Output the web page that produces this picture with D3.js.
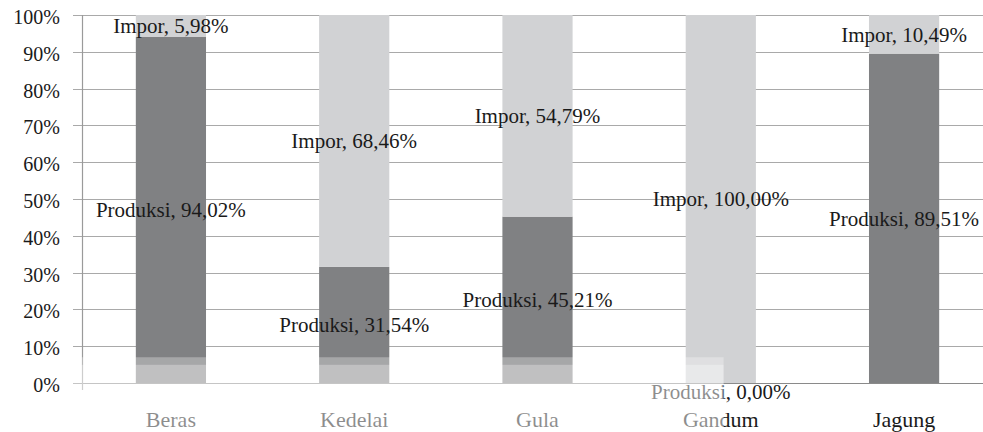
<!DOCTYPE html>
<html>
<head>
<meta charset="utf-8">
<script src="https://cdn.jsdelivr.net/npm/d3@7"></script>
<style>
  html, body { margin: 0; padding: 0; background: #fff; }
  svg { display: block; }
  text { font-family: "Liberation Serif", "Times New Roman", serif; }
</style>
</head>
<body>
<svg id="chart" width="983" height="432"></svg>
<script>
const categories = ["Beras", "Kedelai", "Gula", "Gandum", "Jagung"];
const produksi = [94.02, 31.54, 45.21, 0.00, 89.51];
const impor = [5.98, 68.46, 54.79, 100.00, 10.49];
const yTicks = [0, 10, 20, 30, 40, 50, 60, 70, 80, 90, 100];
const seriesNames = ["Produksi", "Impor"];

const W = 983, H = 432;
const margin = { top: 15, left: 82, bottom: 49 };
const plotRight = 996;
const svg = d3.select("#chart");

const x = d3.scaleBand().domain(categories).range([79, plotRight]).paddingInner(0.617).paddingOuter(0.31);
const y = d3.scaleLinear().domain([0, 100]).range([H - margin.bottom, margin.top]);

const colors = { Produksi: "#808183", Impor: "#d1d2d4" };
const fmt = v => v.toFixed(2).replace(".", ",") + "%";

// gridlines
svg.append("g").selectAll("line").data(yTicks).join("line")
  .attr("x1", 73).attr("x2", W)
  .attr("y1", d => Math.round(y(d)) + 0.5).attr("y2", d => Math.round(y(d)) + 0.5)
  .attr("stroke", d => d === 0 ? "#8a8a8a" : "#a9a9a9").attr("stroke-width", 1.2);

// y axis line
svg.append("line").attr("x1", 82.5).attr("x2", 82.5)
  .attr("y1", y(100)).attr("y2", y(0) + 7)
  .attr("stroke", "#9a9a9a").attr("stroke-width", 1.2);

// tick labels
svg.append("g").selectAll("text").data(yTicks).join("text")
  .attr("x", 60).attr("y", d => y(d)).attr("dy", "0.45em")
  .attr("text-anchor", "end").attr("font-size", 20).attr("fill", "#1a1a1a")
  .text(d => d + "%");

// stacked data
const rows = categories.map((c, i) => ({ cat: c, Produksi: produksi[i], Impor: impor[i] }));
const stack = d3.stack().keys(seriesNames)(rows);

svg.append("g").selectAll("g").data(stack).join("g")
  .attr("fill", s => colors[s.key])
  .selectAll("rect").data(s => s).join("rect")
  .attr("x", d => x(d.data.cat))
  .attr("width", x.bandwidth())
  .attr("y", d => y(d[1]))
  .attr("height", d => y(d[0]) - y(d[1]));

// category labels
svg.append("g").selectAll("text").data(categories).join("text")
  .attr("x", d => x(d) + x.bandwidth() / 2).attr("y", 427)
  .attr("text-anchor", "middle").attr("font-size", 22).attr("fill", "#1a1a1a")
  .text(d => d);

// data labels
const labels = [];
stack.forEach(s => s.forEach(d => {
  const v = d.data[s.key];
  const mid = v === 0 ? null : (d[0] + d[1]) / 2;
  labels.push({
    text: s.key + ", " + fmt(v),
    x: x(d.data.cat) + x.bandwidth() / 2,
    y: mid === null ? y(0) + 9 : Math.max(y(mid), y(98))
  });
}));
svg.append("g").selectAll("text").data(labels).join("text")
  .attr("x", d => d.x).attr("y", d => d.y).attr("dy", "0.35em")
  .attr("text-anchor", "middle").attr("font-size", 21).attr("fill", "#1a1a1a")
  .text(d => d.text);

// faint scan watermark band over the lower-left part of the picture
const wmRight = x("Gandum") + x.bandwidth() * 0.54;
svg.append("rect").attr("x", 60).attr("width", wmRight - 60)
  .attr("y", y(7)).attr("height", y(5) - y(7))
  .attr("fill", "#fff").attr("opacity", 0.3);
svg.append("rect").attr("x", 60).attr("width", wmRight - 60)
  .attr("y", y(5)).attr("height", H - y(5))
  .attr("fill", "#fff").attr("opacity", 0.5);
</script>
</body>
</html>
